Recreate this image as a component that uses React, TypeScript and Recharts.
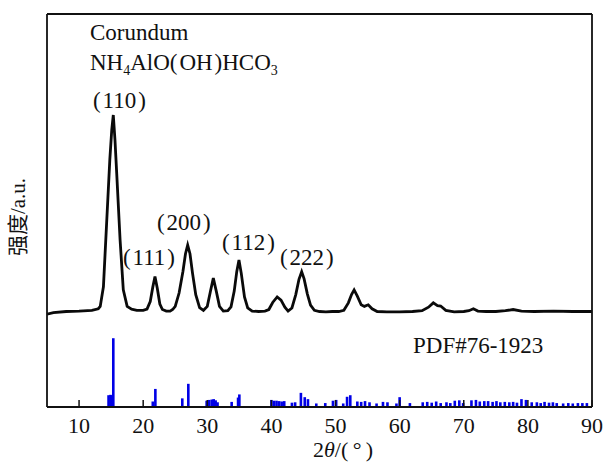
import React from 'react';
import { ComposedChart, Line, Bar, XAxis, YAxis } from 'recharts';

// measured XRD pattern (2theta, intensity a.u.)
const angles = [
  5.0, 6.0, 8.0, 10.0, 12.0, 13.0, 13.3, 13.8, 14.3, 14.8, 15.1, 15.34, 15.6, 15.87, 16.4, 16.9, 17.5, 18.2, 19.0, 20.0,
  20.6, 21.1, 21.5, 21.84, 22.2, 22.6, 23.0, 23.6, 24.2, 24.6, 25.0, 25.6, 26.2, 26.6, 26.94, 27.3, 27.7, 28.2, 28.8, 29.4,
  30.0, 30.5, 30.94, 31.4, 31.9, 32.5, 33.2, 33.7, 34.2, 34.6, 34.94, 35.3, 35.8, 36.3, 37.0, 38.0, 39.0, 39.6, 40.2, 40.9,
  41.5, 42.1, 42.6, 43.2, 43.8, 44.3, 44.72, 45.1, 45.6, 46.1, 46.7, 47.5, 48.5, 49.5, 50.5, 51.3, 52.0, 52.5, 52.9, 53.4,
  54.0, 54.5, 55.1, 55.7, 56.5, 58.0, 60.0, 62.0, 63.5, 64.5, 65.25, 65.9, 66.4, 67.2, 68.5, 70.0, 70.8, 71.5, 72.2, 73.5,
  75.0, 76.5, 77.7, 79.0, 81.0, 84.0, 87.0, 90.0,
];
const intensity = [
  23.6, 24.0, 24.3, 24.4, 24.6, 25.0, 25.6, 30.6, 46.8, 63.0, 70.5, 74.3, 68.0, 59.5, 42.5, 29.8, 25.6, 24.9, 24.6, 24.6,
  24.9, 26.8, 30.5, 33.2, 30.2, 26.2, 24.8, 24.4, 24.4, 24.8, 25.6, 29.0, 34.5, 39.0, 41.2, 39.0, 34.0, 28.6, 25.3, 24.6,
  25.6, 29.5, 32.8, 29.5, 25.6, 24.4, 24.5, 25.5, 29.5, 34.5, 37.4, 34.0, 28.0, 25.2, 24.4, 24.3, 24.4, 24.8, 26.6, 28.0,
  27.2, 25.4, 24.4, 25.2, 28.6, 32.5, 34.4, 32.6, 28.8, 25.9, 24.6, 24.3, 24.2, 24.3, 24.3, 24.6, 26.5, 28.6, 29.8, 28.2,
  26.0, 25.6, 26.0, 25.0, 24.3, 24.2, 24.2, 24.3, 24.5, 25.4, 26.5, 25.8, 25.7, 24.6, 24.2, 24.3, 24.5, 25.0, 24.4, 24.3,
  24.3, 24.5, 24.8, 24.4, 24.3, 24.4, 24.3, 24.3,
];

// PDF#76-1923 reference lines
const stickAngles = [
  14.6, 14.9, 15.1, 15.34, 21.5, 21.9, 26.1, 27.04, 29.9, 30.3, 30.7, 31.0, 31.3, 31.6, 33.8, 34.8, 35.0, 40.0, 40.4, 40.8,
  41.2, 41.6, 42.0, 43.2, 43.7, 44.6, 45.2, 45.7, 47.0, 48.4, 49.6, 50.1, 51.2, 51.8, 52.3, 53.4, 54.0, 54.6, 55.3, 56.4,
  57.4, 58.1, 59.5, 60.0, 61.6, 63.6, 64.3, 65.0, 65.7, 66.4, 67.3, 67.9, 68.6, 69.3, 69.9, 71.2, 71.9, 72.5, 73.2, 73.8,
  74.5, 75.1, 75.7, 76.4, 77.1, 77.7, 78.3, 79.0, 79.7, 80.6, 81.4, 82.0, 82.6, 83.3, 83.9, 84.5, 85.5, 86.3, 87.0, 87.8,
  88.5, 89.2,
];
const stickIntensity = [
  3.0, 3.1, 3.0, 17.5, 1.4, 4.6, 2.2, 5.9, 1.6, 1.8, 1.9, 2.0, 1.7, 1.2, 1.3, 2.4, 3.2, 1.8, 1.6, 1.6,
  1.5, 1.4, 1.5, 1.1, 1.2, 3.6, 2.5, 2.0, 0.9, 1.0, 1.6, 1.8, 0.9, 2.6, 3.0, 1.4, 1.3, 1.5, 1.2, 0.9,
  1.3, 1.2, 0.9, 2.5, 1.0, 1.2, 1.3, 1.1, 1.4, 1.0, 1.2, 1.0, 1.6, 1.7, 1.0, 1.7, 1.8, 1.4, 1.5, 1.5,
  1.3, 1.5, 1.2, 1.3, 1.2, 1.3, 1.1, 2.0, 1.8, 1.2, 1.2, 1.0, 1.3, 1.1, 1.2, 1.0, 0.9, 1.0, 0.9, 1.0,
  1.0, 1.0,
];

const xTicks = [10, 20, 30, 40, 50, 60, 70, 80, 90];

const curve = angles.map((a, i) => ({ angle: a, counts: intensity[i] }));
const sticks = stickAngles.map((a, i) => ({ angle: a, pdf: stickIntensity[i] }));

const serif = "'Liberation Serif', 'Times New Roman', 'DejaVu Serif', serif";
const cjk = "'Noto Sans CJK SC', sans-serif";
const ink = '#111';

const BottomTick = (props: any) => {
  const { x, y, payload } = props;
  return (
    <g>
      <line x1={x} x2={x} y1={y} y2={y - 7} stroke={ink} strokeWidth={1.5} />
      <text x={x} y={y + 26} textAnchor="middle" style={{ fontFamily: serif }} fontSize={22} fill={ink}>
        {payload.value}
      </text>
    </g>
  );
};

// stick drawn centred on the bar slot with a visible width
const Stick = (props: any) => {
  const { x, y, width, height, fill } = props;
  if (!height) return null;
  return <rect x={x + width / 2 - 1.3} y={y} width={2.6} height={height} fill={fill} />;
};

const axisLine = { stroke: ink, strokeWidth: 1.8 };
const txt = { fontFamily: serif };

export default function App() {
  return (
    <div style={{ position: 'fixed', left: 0, top: 0, width: 606, height: 462, background: '#fff' }}>
      <ComposedChart width={606} height={462} data={sticks} margin={{ top: 0, right: 0, bottom: 0, left: 0 }}>
        <XAxis
          xAxisId="b"
          dataKey="angle"
          type="number"
          domain={[5, 90]}
          ticks={xTicks}
          interval={0}
          allowDataOverflow
          height={55}
          tickSize={0}
          tickMargin={0}
          tickLine={false}
          tick={<BottomTick />}
          axisLine={axisLine}
        />
        <XAxis xAxisId="t" orientation="top" dataKey="angle" type="number" domain={[5, 90]} height={14} tick={false} tickLine={false} axisLine={axisLine} />
        <YAxis yAxisId="l" type="number" domain={[0, 100]} width={47} tick={false} tickLine={false} axisLine={axisLine} />
        <YAxis yAxisId="r" orientation="right" type="number" domain={[0, 100]} width={14} tick={false} tickLine={false} axisLine={axisLine} />
        <Bar xAxisId="b" yAxisId="l" dataKey="pdf" fill="#0000e6" shape={<Stick />} isAnimationActive={false} />
        <Line
          xAxisId="b"
          yAxisId="l"
          data={curve}
          dataKey="counts"
          type="linear"
          stroke="#0a0a0a"
          strokeWidth={2.8}
          dot={false}
          isAnimationActive={false}
        />
      </ComposedChart>
      <svg width={606} height={462} style={{ position: 'absolute', left: 0, top: 0, pointerEvents: 'none', fontFamily: serif }} fill={ink}>
        <text x={90} y={40} fontSize={23} style={txt}>Corundum</text>
        <text x={90} y={70} fontSize={23} style={txt}>
          NH<tspan fontSize={14} dy={5}>4</tspan>
          <tspan dy={-5}>AlO(&#8202;OH&#8202;)HCO</tspan>
          <tspan fontSize={14} dy={5}>3</tspan>
        </text>
        <text x={93} y={108} fontSize={23} style={txt}>(&#8202;110&#8202;)</text>
        <text x={123} y={265} fontSize={23} style={txt}>(&#8202;111&#8202;)</text>
        <text x={157} y={230} fontSize={23} style={txt}>(&#8202;200&#8202;)</text>
        <text x={222} y={250} fontSize={23} style={txt}>(&#8202;112&#8202;)</text>
        <text x={280} y={265} fontSize={23} style={txt}>(&#8202;222&#8202;)</text>
        <text x={413} y={353} fontSize={23} style={txt}>PDF#76-1923</text>
        <text x={25} y={217} fontSize={21} textAnchor="middle" transform="rotate(-90 25 217)" style={txt}>
          <tspan style={{ fontFamily: cjk }}>强度</tspan>/a.u.
        </text>
        <text x={313} y={457} fontSize={22} style={txt}>
          2<tspan fontStyle="italic">θ</tspan>/(&#8201;°&#8201;)
        </text>
      </svg>
    </div>
  );
}
